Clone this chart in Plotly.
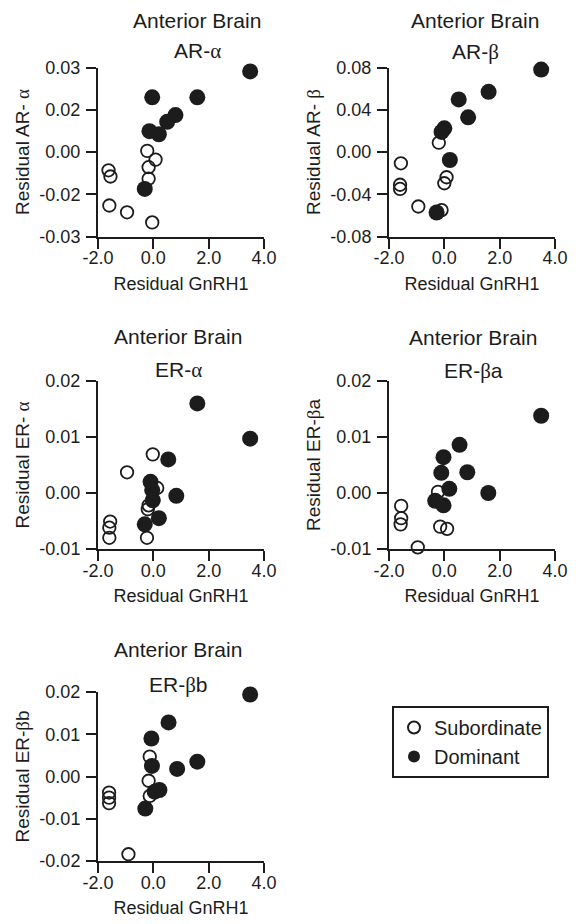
import plotly.graph_objects as go

# ---------------- data ----------------
panel_titles = ["AR-α", "AR-β", "ER-α", "ER-βa", "ER-βb"]
y_titles = ["Residual AR- α", "Residual AR- β", "Residual ER- α", "Residual ER-βa", "Residual ER-βb"]
region = "Anterior Brain"
x_title = "Residual GnRH1"

x_tickvals = [-2, 0, 2, 4]
x_ticktext = ["-2.0", "0.0", "2.0", "4.0"]

# AR-alpha
ara_dom_x = [3.5, 1.59, 0.80, 0.50, -0.04, -0.14, 0.20, -0.31]
ara_dom_y = [0.0286, 0.0194, 0.0131, 0.0107, 0.0194, 0.0074, 0.0063, -0.0131]
ara_sub_x = [-0.22, 0.08, -0.17, -0.17, -1.62, -1.55, -1.59, -0.95, -0.04]
ara_sub_y = [0.0004, -0.0027, -0.0054, -0.0095, -0.0065, -0.0087, -0.019, -0.0214, -0.025]
ara_tickvals = [-0.03, -0.015, 0.0, 0.015, 0.03]
ara_ticktext = ["-0.03", "-0.02", "0.00", "0.02", "0.03"]

# AR-beta
arb_dom_x = [3.5, 1.6, 0.52, 0.86, 0.0, -0.1, 0.2, -0.28]
arb_dom_y = [0.078, 0.057, 0.0498, 0.0328, 0.0224, 0.019, -0.0076, -0.0573]
arb_sub_x = [-0.2, -1.57, -1.6, -1.6, 0.08, 0.0, -0.94, -0.1]
arb_sub_y = [0.0088, -0.0107, -0.031, -0.035, -0.0239, -0.0296, -0.0516, -0.055]
arb_tickvals = [-0.08, -0.04, 0.0, 0.04, 0.08]
arb_ticktext = ["-0.08", "-0.04", "0.00", "0.04", "0.08"]

# ER-alpha
era_dom_x = [3.5, 1.59, 0.54, 0.83, -0.1, -0.04, -0.02, 0.2, -0.31]
era_dom_y = [0.0097, 0.016, 0.006, -0.0005, 0.002, 0.0005, -0.0013, -0.0045, -0.0056]
era_sub_x = [-0.02, -0.95, 0.14, -0.17, -0.2, -0.23, -1.56, -1.59, -1.59]
era_sub_y = [0.0069, 0.0037, 0.0009, -0.0022, -0.0029, -0.008, -0.0051, -0.0062, -0.008]
era_tickvals = [-0.01, 0.0, 0.01, 0.02]
era_ticktext = ["-0.01", "0.00", "0.01", "0.02"]

# ER-beta a
erba_dom_x = [3.5, 0.55, -0.03, -0.11, 0.83, 0.18, 1.59, -0.33, -0.03]
erba_dom_y = [0.0138, 0.0086, 0.0064, 0.0036, 0.0037, 0.00075, 0.0, -0.0014, -0.0022]
erba_sub_x = [-0.23, -1.56, -1.56, -1.58, -0.15, 0.1, -0.96]
erba_sub_y = [0.0002, -0.0023, -0.0045, -0.0056, -0.006, -0.0064, -0.0097]
erba_tickvals = [-0.01, 0.0, 0.01, 0.02]
erba_ticktext = ["-0.01", "0.00", "0.01", "0.02"]

# ER-beta b
erbb_dom_x = [3.5, 0.55, -0.07, -0.05, 0.86, 1.59, 0.22, 0.05, -0.29]
erbb_dom_y = [0.0194, 0.0128, 0.009, 0.0025, 0.0018, 0.0035, -0.0032, -0.0036, -0.0076]
erbb_sub_x = [-0.13, -0.17, -0.13, -1.6, -1.6, -1.6, -0.9]
erbb_sub_y = [0.0047, -0.001, -0.0046, -0.0038, -0.005, -0.0063, -0.0184]
erbb_tickvals = [-0.02, -0.01, 0.0, 0.01, 0.02]
erbb_ticktext = ["-0.02", "-0.01", "0.00", "0.01", "0.02"]

# ---------------- figure ----------------
# The page body adds an 8px margin, so the figure is 8px smaller on each axis
# and all layout pixel positions below are reference pixels minus 8.
OFF = 8
W, H = 576 - OFF, 924 - OFF
INK = "#1c1c1c"
FONT = "Liberation Sans, Arial, sans-serif"

panels = [
    (ara_dom_x, ara_dom_y, ara_sub_x, ara_sub_y, ara_tickvals, ara_ticktext),
    (arb_dom_x, arb_dom_y, arb_sub_x, arb_sub_y, arb_tickvals, arb_ticktext),
    (era_dom_x, era_dom_y, era_sub_x, era_sub_y, era_tickvals, era_ticktext),
    (erba_dom_x, erba_dom_y, erba_sub_x, erba_sub_y, erba_tickvals, erba_ticktext),
    (erbb_dom_x, erbb_dom_y, erbb_sub_x, erbb_sub_y, erbb_tickvals, erbb_ticktext),
]

# plot-area boxes in reference pixels (left, right, top, bottom)
col_x = [(98, 264), (389, 555)]
row_y = [(67.5, 236.5), (381, 549), (692, 861)]
boxes = [
    (col_x[0], row_y[0]), (col_x[1], row_y[0]),
    (col_x[0], row_y[1]), (col_x[1], row_y[1]),
    (col_x[0], row_y[2]),
]
# title centres in reference pixels (x, y of region line or None = top edge, y of gene line)
title_pos = [(197, None, 51), (475, None, 52), (178, 336.5, 370.5), (473, 337.5, 371.5), (178, 649, 685)]


def px(xp):
    return (xp - OFF) / W


def py(yp):
    return 1 - (yp - OFF) / H


def greek_serif(s):
    out = ""
    for ch in s:
        if ch in "αβ":
            out += '<span style="font-family:Liberation Serif, Times New Roman, serif">' + ch + "</span>"
        else:
            out += ch
    return out


fig = go.Figure()
layout = dict(
    template="none",
    width=W, height=H,
    margin=dict(l=0, r=0, t=0, b=0, pad=0, autoexpand=False),
    paper_bgcolor="white", plot_bgcolor="white",
    font=dict(family=FONT, size=18, color=INK),
    showlegend=True,
    legend=dict(
        x=px(392), y=py(706), xanchor="left", yanchor="top",
        bordercolor=INK, borderwidth=2, bgcolor="white",
        font=dict(size=20, color=INK), tracegroupgap=0,
        itemsizing="constant",
    ),
)
annotations = []

for i, (dx, dy, sx, sy, tv, tt) in enumerate(panels):
    n = i + 1
    xa = "x" if n == 1 else f"x{n}"
    ya = "y" if n == 1 else f"y{n}"
    (l, r), (t, b) = boxes[i]
    fig.add_trace(go.Scatter(
        x=sx, y=sy, xaxis=xa, yaxis=ya, mode="markers", name="Subordinate",
        legendgroup="sub", showlegend=(i == 0), cliponaxis=False,
        marker=dict(symbol="circle-open", size=12.5, color=INK, line=dict(width=1.8, color=INK)),
    ))
    fig.add_trace(go.Scatter(
        x=dx, y=dy, xaxis=xa, yaxis=ya, mode="markers", name="Dominant",
        legendgroup="dom", showlegend=(i == 0), cliponaxis=False,
        marker=dict(symbol="circle", size=16, color=INK, line=dict(width=0)),
    ))
    common = dict(showgrid=False, zeroline=False, showline=True, linecolor=INK, linewidth=2,
                  ticks="outside", ticklen=10, tickwidth=2, tickcolor=INK, automargin=False,
                  tickfont=dict(size=18, color=INK))
    layout["xaxis" if n == 1 else f"xaxis{n}"] = dict(
        common, domain=[px(l), px(r)], anchor=ya, range=[-2, 4],
        tickvals=x_tickvals, ticktext=x_ticktext, ticklabelstandoff=-6,
        title=dict(text=x_title, font=dict(size=18, color=INK), standoff=10),
    )
    layout["yaxis" if n == 1 else f"yaxis{n}"] = dict(
        common, domain=[py(b), py(t)], anchor=xa, range=[tv[0], tv[-1]],
        tickvals=tv, ticktext=tt, ticklabelstandoff=2,
        title=dict(text=greek_serif(y_titles[i]), font=dict(size=19, color=INK), standoff=5),
    )
    cx, y1, y2 = title_pos[i]
    if y1 is None:
        annotations.append(dict(text=region, x=px(cx), y=1, xref="paper", yref="paper",
                                showarrow=False, xanchor="center", yanchor="top", borderpad=0,
                                font=dict(size=21, color=INK)))
    else:
        annotations.append(dict(text=region, x=px(cx), y=py(y1), xref="paper", yref="paper",
                                showarrow=False, xanchor="center", yanchor="middle",
                                font=dict(size=21, color=INK)))
    annotations.append(dict(text=greek_serif(panel_titles[i]), x=px(cx), y=py(y2),
                            xref="paper", yref="paper", showarrow=False,
                            xanchor="center", yanchor="middle", font=dict(size=21, color=INK)))

layout["annotations"] = annotations
fig.update_layout(**layout)
fig.write_html("out.html")
